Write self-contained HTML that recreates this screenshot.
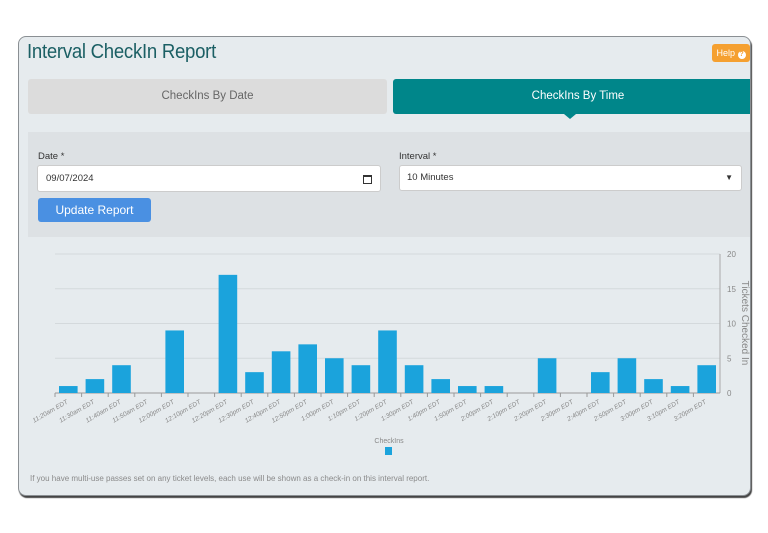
<!DOCTYPE html>
<html><head><meta charset="utf-8"><style>
body{margin:0;width:768px;height:533px;background:#fff;font-family:"Liberation Sans",sans-serif;position:relative;overflow:hidden}
.card{position:absolute;left:18px;top:36px;width:731px;height:458px;background:#e6ebee;border:1px solid #8a8f93;border-radius:8px;box-shadow:1px 2px 1px #444;overflow:hidden}
.abs{position:absolute}
</style></head><body>
<div class="card">
<div class="abs" style="left:8px;top:4px;font-size:20px;color:#1b5f64;letter-spacing:-0.3px;transform:scaleX(0.93);transform-origin:left">Interval CheckIn Report</div>
<div class="abs" style="left:693px;top:7px;width:38px;height:18px;background:#f5a030;border-radius:3px;color:#fff;font-size:9px;line-height:18px;text-align:center">Help <span style="display:inline-block;width:8px;height:8px;border-radius:50%;background:#fff;color:#f5a030;font-size:7px;line-height:8px;font-weight:bold">?</span></div>
<div class="abs" style="left:9px;top:42px;width:359px;height:35px;background:#dcdcdc;border-radius:3px;color:#666;font-size:11.5px;line-height:35px;text-align:center">CheckIns By Date</div>
<div class="abs" style="left:374px;top:42px;width:370px;height:35px;background:#00868a;border-radius:3px;color:#fff;font-size:11.5px;line-height:35px;text-align:center">CheckIns By Time</div>
<div class="abs" style="left:545px;top:77px;width:0;height:0;border-left:6px solid transparent;border-right:6px solid transparent;border-top:5px solid #00868a"></div>
<div class="abs" style="left:9px;top:95px;width:740px;height:105px;background:#dde1e4">
<div class="abs" style="left:10px;top:19px;font-size:9.5px;color:#333">Date *</div>
<div class="abs" style="left:9px;top:33px;width:334px;height:25px;background:#fff;border:1px solid #ccc;border-radius:3px;font-size:9.5px;line-height:25px;padding-left:8px;color:#333">09/07/2024<span style="position:absolute;right:8px;top:9px;width:7px;height:6px;border:1px solid #333;border-top-width:2px"></span></div>
<div class="abs" style="left:371px;top:19px;font-size:9.5px;color:#333">Interval *</div>
<div class="abs" style="left:371px;top:33px;width:334px;height:24px;background:#fff;border:1px solid #ccc;border-radius:3px;font-size:9.5px;line-height:24px;padding-left:7px;color:#333">10 Minutes<span style="position:absolute;right:8px;font-size:8px">▼</span></div>
<div class="abs" style="left:10px;top:66px;width:113px;height:24px;background:#4a90e2;border-radius:3px;color:#fff;font-size:12px;line-height:24px;text-align:center">Update Report</div>
</div>
<div class="abs" style="left:11px;top:437px;font-size:8px;color:#8a8a8a">If you have multi-use passes set on any ticket levels, each use will be shown as a check-in on this interval report.</div>
</div>
<svg id="chart" class="abs" style="left:0;top:0" width="768" height="533"></svg>
<script>
const categories=["11:20am EDT","11:30am EDT","11:40am EDT","11:50am EDT","12:00pm EDT","12:10pm EDT","12:20pm EDT","12:30pm EDT","12:40pm EDT","12:50pm EDT","1:00pm EDT","1:10pm EDT","1:20pm EDT","1:30pm EDT","1:40pm EDT","1:50pm EDT","2:00pm EDT","2:10pm EDT","2:20pm EDT","2:30pm EDT","2:40pm EDT","2:50pm EDT","3:00pm EDT","3:10pm EDT","3:20pm EDT"];
const checkins=[1,2,4,0,9,0,17,3,6,7,5,4,9,4,2,1,1,0,5,0,3,5,2,1,4];
const yTicks=[0,5,10,15,20];
const ns="http://www.w3.org/2000/svg";
const svg=document.getElementById('chart');
const X0=55,X1=720,Y0=393,Y1=254,YMAX=20;
const bw=(X1-X0)/categories.length;
const x=i=>X0+bw*i;
const y=v=>Y0-(Y0-Y1)*v/YMAX;
function mk(t,a){const e=document.createElementNS(ns,t);for(const k in a)e.setAttribute(k,a[k]);svg.appendChild(e);return e;}
yTicks.forEach(v=>{
 if(v>0){const g=mk('line',{x1:X0,x2:X1,y1:y(v),y2:y(v),stroke:'#d4d9dc','stroke-width':1});
 
 }
 const t=mk('text',{x:X1+7,y:y(v)+3,'font-size':8,fill:'#888','font-family':'Liberation Sans,sans-serif'});t.textContent=v;
 
 
});
const ax=mk('line',{x1:X1,x2:X1,y1:Y1,y2:Y0,stroke:'#aaa'});


const xa=mk('line',{x1:X0,x2:X1,y1:Y0,y2:Y0,stroke:'#999'});


categories.forEach((c,i)=>{
 const v=checkins[i];
 const b=mk('rect',{x:x(i)+4,y:y(v),width:bw-8,height:Y0-y(v),fill:'#1ba3dc'});
 
 
 const tk=mk('line',{x1:x(i),x2:x(i),y1:Y0,y2:Y0+4,stroke:'#999'});
 
 
 const cx=x(i)+bw/2;
 const t=mk('text',{x:cx,y:Y0+10,'font-size':6.5,fill:'#888','font-style':'italic','text-anchor':'end','font-family':'Liberation Sans,sans-serif',transform:`rotate(-30 ${cx} ${Y0+10})`});
 t.textContent=c;
 
 
});
const yt=mk('text',{x:742,y:323,'font-size':10,fill:'#888','text-anchor':'middle','font-family':'Liberation Sans,sans-serif',transform:'rotate(90 742 323)'});
yt.textContent='Tickets Checked In';


const lt=mk('text',{x:389,y:443,'font-size':7,fill:'#888','text-anchor':'middle','font-family':'Liberation Sans,sans-serif'});
lt.textContent='CheckIns';


const ls=mk('rect',{x:385,y:447,width:7,height:8,fill:'#1ba3dc'});


</script>
</body></html>
